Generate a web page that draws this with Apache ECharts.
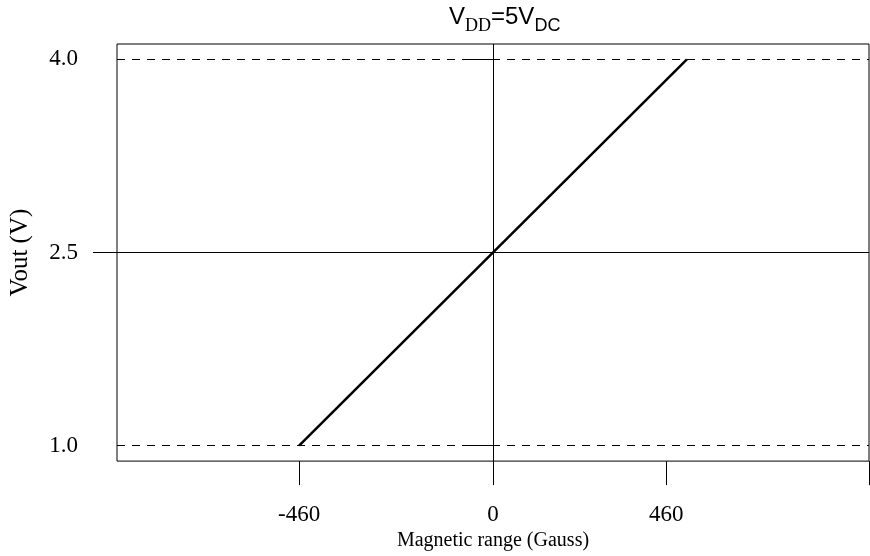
<!DOCTYPE html>
<html>
<head>
<meta charset="utf-8">
<script src="https://cdn.jsdelivr.net/npm/echarts@6/dist/echarts.min.js"></script>
<style>
  html, body { margin: 0; padding: 0; background: #fff; }
  #chart { width: 870px; height: 556px; }
</style>
</head>
<body>
<div id="chart"></div>
<script>
// transfer line: field (Gauss) -> output (V)
var gauss = [-460, 460];
var vout = [1.0, 4.0];

// x ticks (the "460" tick sits a bit left of the line end in the original)
var xTickValues = [-460, 0, 411, 892];
var xLabelValues = [-460, 0, 411];
var xTickLabels = ['-460', '0', '460'];

// y ticks / reference levels
var yLabelValues = [1.0, 2.5, 4.0];
var dashedLevels = [1.0, 4.0];
var solidLevels = [2.5];

var serif = 'Liberation Serif';
var sans = 'Liberation Sans';

var lineData = gauss.map(function(g, i) { return [g, vout[i]]; });

var marks = [];
dashedLevels.forEach(function(v) {
  marks.push({ yAxis: v, lineStyle: { type: [8, 7], color: '#000', width: 1 } });
});
solidLevels.forEach(function(v) {
  marks.push({ yAxis: v, lineStyle: { type: 'solid', color: '#000', width: 1 } });
});
marks.push({ xAxis: 0, lineStyle: { type: 'solid', color: '#000', width: 1 } });

var chart = echarts.init(document.getElementById('chart'));
chart.setOption({
  backgroundColor: '#fff',
  animation: false,
  title: {
    text: '{v|V}{s1|DD}{v|=5V}{s2|DC}',
    left: 444,
    top: 0,
    textStyle: {
      fontWeight: 'normal',
      rich: {
        v: { fontFamily: sans, fontWeight: 'normal', fontSize: 24, lineHeight: 30, verticalAlign: 'top', color: '#000' },
        s1: { fontFamily: serif, fontWeight: 'normal', fontSize: 18, lineHeight: 18, verticalAlign: 'bottom', color: '#000' },
        s2: { fontFamily: sans, fontWeight: 'normal', fontSize: 18, lineHeight: 18, verticalAlign: 'bottom', color: '#000' }
      }
    }
  },
  grid: {
    show: true,
    left: 115,
    right: 1,
    top: 44,
    bottom: 93,
    borderColor: '#000',
    borderWidth: 1
  },
  xAxis: {
    type: 'value',
    min: -892,
    max: 892,
    name: 'Magnetic range (Gauss)',
    nameLocation: 'middle',
    nameGap: 65,
    nameTextStyle: { fontFamily: serif, fontSize: 20, color: '#000' },
    axisLine: { show: false },
    splitLine: { show: false },
    axisTick: {
      show: true,
      inside: false,
      length: 24,
      customValues: xTickValues,
      lineStyle: { color: '#000', width: 1 }
    },
    axisLabel: {
      customValues: xLabelValues,
      margin: 42,
      fontFamily: serif,
      fontSize: 23,
      color: '#000',
      formatter: function(val) {
        var i = xLabelValues.indexOf(val);
        return i >= 0 ? xTickLabels[i] : '';
      }
    }
  },
  yAxis: [{
    type: 'value',
    min: 0.88,
    max: 4.12,
    name: 'Vout (V)',
    nameLocation: 'middle',
    nameGap: 84,
    nameTextStyle: { fontFamily: serif, fontSize: 25, color: '#000' },
    axisLine: { show: false },
    splitLine: { show: false },
    axisTick: {
      show: true,
      length: 24,
      customValues: dashedLevels,
      lineStyle: { color: '#000', width: 1, type: [8, 7] }
    },
    axisLabel: {
      customValues: yLabelValues,
      margin: 39,
      fontFamily: serif,
      fontSize: 23,
      color: '#000',
      formatter: function(val) { return val.toFixed(1); }
    }
  }, {
    type: 'value',
    position: 'left',
    min: 0.88,
    max: 4.12,
    axisLine: { show: false },
    splitLine: { show: false },
    axisLabel: { show: false },
    axisTick: {
      show: true,
      length: 24,
      customValues: solidLevels,
      lineStyle: { color: '#000', width: 1 }
    }
  }],
  series: [{
    type: 'line',
    data: lineData,
    symbol: 'none',
    lineStyle: { color: '#000', width: 2.5 },
    markLine: {
      silent: true,
      symbol: 'none',
      label: { show: false },
      data: marks
    }
  }]
});
</script>
</body>
</html>
